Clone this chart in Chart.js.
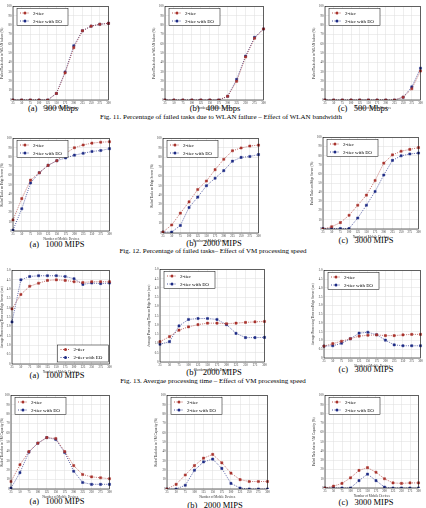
<!DOCTYPE html>
<html><head><meta charset="utf-8">
<script src="https://cdn.jsdelivr.net/npm/chart.js@4.4.0/dist/chart.umd.min.js"></script>
<style>
body{margin:0;width:426px;height:508px;background:#fff;position:relative;overflow:hidden;font-family:"Liberation Serif",serif;}
canvas{position:absolute}
.cap{position:absolute;white-space:nowrap;font-size:8.5px;line-height:1;color:#000;transform:translateX(-50%)}
.fig{position:absolute;white-space:nowrap;font-size:7px;line-height:1;color:#000;transform:translateX(-50%)}
</style></head><body>
<div class="cap" style="left:53px;top:104px">(a)&nbsp;&nbsp;&nbsp;300 Mbps</div>
<div class="cap" style="left:215px;top:104px">(b)&nbsp;&nbsp;&nbsp;400 Mbps</div>
<div class="cap" style="left:363px;top:104px">(c)&nbsp;&nbsp;&nbsp;500 Mbps</div>
<div class="fig" style="left:221px;top:114px">Fig. 11. Percentage of failed tasks due to WLAN failure – Effect of WLAN bandwidth</div>
<div class="cap" style="left:57px;top:240px">(a)&nbsp;&nbsp;&nbsp;1000 MIPS</div>
<div class="cap" style="left:214px;top:239px">(b)&nbsp;&nbsp;&nbsp;2000 MIPS</div>
<div class="cap" style="left:366px;top:236px">(c)&nbsp;&nbsp;&nbsp;3000 MIPS</div>
<div class="fig" style="left:213px;top:248px">Fig. 12. Percentage of failed tasks– Effect of VM processing speed</div>
<div class="cap" style="left:57px;top:371px">(a)&nbsp;&nbsp;&nbsp;1000 MIPS</div>
<div class="cap" style="left:214px;top:368px">(b)&nbsp;&nbsp;&nbsp;2000 MIPS</div>
<div class="cap" style="left:366px;top:365px">(c)&nbsp;&nbsp;&nbsp;3000 MIPS</div>
<div class="fig" style="left:213px;top:378px">Fig. 13. Avergae processing time – Effect of VM processing speed</div>
<div class="cap" style="left:57px;top:497px">(a)&nbsp;&nbsp;&nbsp;1000 MIPS</div>
<div class="cap" style="left:215px;top:501px">(b)&nbsp;&nbsp;&nbsp;2000 MIPS</div>
<div class="cap" style="left:366px;top:498px">(c)&nbsp;&nbsp;&nbsp;3000 MIPS</div>
<script>
'use strict';

var devices = [25, 50, 75, 100, 125, 150, 175, 200, 225, 250, 275, 300];

// fig 11 - WLAN failure
var wlan300Tier = [0, 0, 0, 0, 0, 7, 29, 56, 74, 79, 81, 82];
var wlan300EO = [0, 0, 0, 0, 0, 7, 30, 58, 74, 79, 81, 82];
var wlan400Tier = [0, 0, 0, 0, 0, 0, 0, 4, 20, 46, 66, 76];
var wlan400EO = [0, 0, 0, 0, 0, 0, 0, 4, 22, 47, 67, 76];
var wlan500Tier = [0, 0, 0, 0, 0, 0, 0, 0, 0, 3, 12, 31];
var wlan500EO = [0, 0, 0, 0, 0, 0, 0, 0, 0, 3, 14, 34];

// fig 12 - failed on edge server
var edge1000Tier = [12, 35, 55, 63, 71, 76, 84, 90, 93, 95, 96, 96.5];
var edge1000EO = [1, 24, 52, 63, 71, 76, 79, 82, 84, 86, 87, 89];
var edge2000Tier = [1, 8.5, 21, 33, 46, 55, 67, 78, 87, 90, 92, 93];
var edge2000EO = [1, 1, 8, 27, 38, 50, 58, 66, 76, 80, 81, 83];
var edge3000Tier = [0, 2.5, 7, 15, 26, 37, 53, 72, 81, 85, 87, 89];
var edge3000EO = [0.5, 0.5, 0.5, 0.5, 12, 26, 41, 59, 75, 80, 82, 83];

// fig 13 - processing time
var proc1000Tier = [2.95, 3.72, 4.16, 4.32, 4.47, 4.5, 4.47, 4.4, 4.36, 4.4, 4.4, 4.4];
var proc1000EO = [2.25, 4.5, 4.68, 4.72, 4.72, 4.72, 4.68, 4.56, 4.26, 4.33, 4.3, 4.33];
var proc2000Tier = [1.1, 1.37, 1.72, 1.9, 2.02, 2.1, 2.1, 2.07, 2.1, 2.14, 2.17, 2.19];
var proc2000EO = [0.96, 1.1, 1.95, 2.3, 2.35, 2.35, 2.3, 2.02, 1.55, 1.32, 1.32, 1.33];
var proc3000Tier = [0.68, 0.82, 0.96, 1.1, 1.25, 1.3, 1.32, 1.28, 1.28, 1.32, 1.35, 1.35];
var proc3000EO = [0.68, 0.7, 0.84, 1.1, 1.42, 1.47, 1.33, 1.02, 0.75, 0.7, 0.7, 0.7];

// fig 14 - VM capacity
var vm1000Tier = [8, 26, 40, 49, 55, 54, 40, 25, 15.5, 13, 12, 11];
var vm1000EO = [1, 17.5, 39.5, 49, 55, 53, 39, 19, 7, 5, 5, 5];
var vm2000Tier = [0, 5, 15, 25, 33, 37, 28, 17, 10, 8, 8, 8];
var vm2000EO = [0, 0, 4, 20, 29, 32, 22, 6, 1, 0, 0, 0];
var vm3000Tier = [0, 2, 5, 11, 19, 22, 17, 10, 5.5, 5, 5.5, 5.5];
var vm3000EO = [0, 0, 0, 0, 8, 15, 8, 1, 0, 0, 0, 0];

var wlanTitle = 'Failed Tasks due to WLAN failure (%)';
var edgeTitle = 'Failed Tasks on Edge Server (%)';
var procTitle = 'Average Processing Time on Edge Server (sec)';
var vmTitle = 'Failed Task due to VM Capacity (%)';

var RED = '#a8322c';
var BLUE = '#1c2a85';

// plot box in page pixels: L T R B
var panels = [
  {box: [13, 5, 109, 100], tier: wlan300Tier, eo: wlan300EO, title: wlanTitle, max: 100, step: 10},
  {box: [165, 5, 264, 100], tier: wlan400Tier, eo: wlan400EO, title: wlanTitle, max: 100, step: 10},
  {box: [325, 5, 421, 100], tier: wlan500Tier, eo: wlan500EO, title: wlanTitle, max: 100, step: 10},
  {box: [13, 137, 110, 231], tier: edge1000Tier, eo: edge1000EO, title: edgeTitle, max: 100, step: 10},
  {box: [163, 137, 259, 233], tier: edge2000Tier, eo: edge2000EO, title: edgeTitle, max: 100, step: 10},
  {box: [323, 136, 419, 229], tier: edge3000Tier, eo: edge3000EO, title: edgeTitle, max: 100, step: 10},
  {box: [12, 269, 110, 364], tier: proc1000Tier, eo: proc1000EO, title: procTitle, max: 5, step: 0.5, corner: 'br'},
  {box: [160, 268, 265, 362], tier: proc2000Tier, eo: proc2000EO, title: procTitle, max: 5, step: 0.5},
  {box: [324, 269, 421, 358], tier: proc3000Tier, eo: proc3000EO, title: procTitle, max: 5, step: 0.5},
  {box: [11, 394, 110, 489], tier: vm1000Tier, eo: vm1000EO, title: vmTitle, max: 100, step: 10},
  {box: [167, 394, 268, 489], tier: vm2000Tier, eo: vm2000EO, title: vmTitle, max: 100, step: 10},
  {box: [325, 394, 419, 488], tier: vm3000Tier, eo: vm3000EO, title: vmTitle, max: 100, step: 10}
];

// black frame + boxed legend inside the plot
var framePlugin = {
  id: 'frame',
  afterDraw: function (chart, args, opts) {
    var a = chart.chartArea, c = chart.ctx;
    c.save();
    c.strokeStyle = '#000';
    c.lineWidth = 0.6;
    c.strokeRect(a.left, a.top, a.right - a.left, a.bottom - a.top);
    var w = 51, h = 17, x, y;
    if (opts.corner === 'br') { x = a.right - w - 1; y = a.bottom - h - 2; }
    else { x = a.left + 4; y = a.top + 2; }
    c.fillStyle = '#fff';
    c.fillRect(x, y, w, h);
    c.lineWidth = 0.5;
    c.strokeRect(x, y, w, h);
    chart.data.datasets.forEach(function (ds, i) {
      var ly = y + 4.5 + i * 8;
      c.strokeStyle = ds.borderColor;
      c.setLineDash([1, 1.5]);
      c.lineWidth = 0.8;
      c.beginPath(); c.moveTo(x + 3, ly); c.lineTo(x + 13, ly); c.stroke();
      c.setLineDash([]);
      c.fillStyle = ds.pointBackgroundColor;
      c.beginPath(); c.arc(x + 8, ly, 1.5, 0, Math.PI * 2); c.fill();
      c.fillStyle = '#000';
      c.font = '5px "Liberation Serif"';
      c.textBaseline = 'middle';
      c.fillText(ds.label, x + 16, ly + 0.3);
    });
    c.restore();
  }
};

function makeChart(p) {
  var L = p.box[0], T = p.box[1], R = p.box[2], B = p.box[3];
  var yW = Math.min(L, 13), padT = 3, padR = 4, xH = 10;
  var cv = document.createElement('canvas');
  cv.width = R - L + yW + padR;
  cv.height = B - T + padT + xH;
  cv.style.left = (L - yW) + 'px';
  cv.style.top = (T - padT) + 'px';
  document.body.appendChild(cv);

  var series = function (label, vals, col) {
    return {
      label: label, data: vals, borderColor: col, borderWidth: 0.7, borderDash: [1, 1.2],
      pointBackgroundColor: col, pointBorderColor: col, pointRadius: 1.5, pointBorderWidth: 0.5,
      pointStyle: 'rect', fill: false, tension: 0
    };
  };

  new Chart(cv, {
    type: 'line',
    data: {
      labels: devices,
      datasets: [series('2-tier', p.tier, RED), series('2-tier with EO', p.eo, BLUE)]
    },
    plugins: [framePlugin],
    options: {
      responsive: false,
      animation: false,
      events: [],
      layout: {padding: {top: padT, right: padR, left: 0, bottom: 0}},
      plugins: {legend: {display: false}, tooltip: {enabled: false}, frame: {corner: p.corner || 'tl'}},
      scales: {
        x: {
          offset: false,
          grid: {color: '#dcdcdc', lineWidth: 0.5, drawTicks: false},
          border: {display: false},
          ticks: {font: {size: 3, family: 'Liberation Serif'}, color: '#333', padding: 1.5, maxRotation: 0, autoSkip: false},
          title: {display: true, text: 'Number of Mobile Devices', font: {size: 3.3, family: 'Liberation Serif'}, color: '#333', padding: 0},
          afterFit: function (s) { s.height = xH; }
        },
        y: {
          min: 0, max: p.max,
          grid: {color: '#dcdcdc', lineWidth: 0.5, drawTicks: false},
          border: {display: false},
          ticks: {stepSize: p.step, font: {size: 3, family: 'Liberation Serif'}, color: '#333', padding: 1.5},
          title: {display: true, text: p.title, font: {size: 3.3, family: 'Liberation Serif'}, color: '#333', padding: 0},
          afterFit: function (s) { s.width = yW; }
        }
      }
    }
  });
}

panels.forEach(makeChart);
</script>
</body></html>
